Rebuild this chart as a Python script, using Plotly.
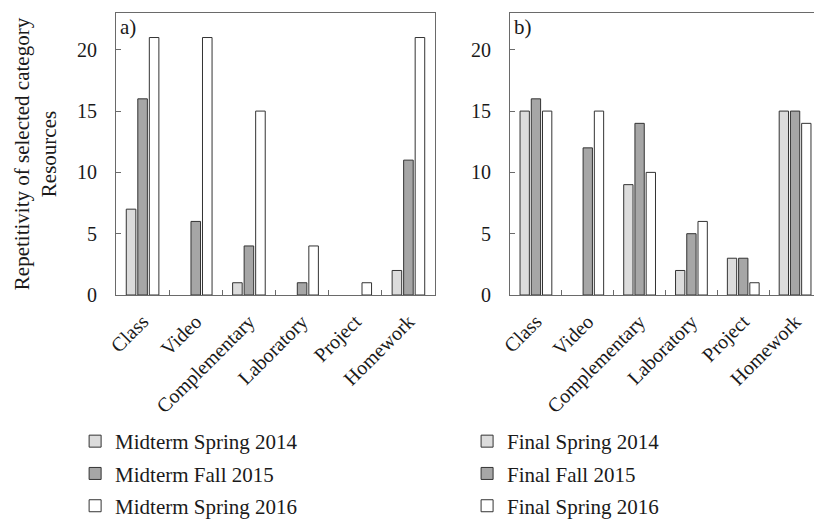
import plotly.graph_objects as go

categories = ["Class", "Video", "Complementary", "Laboratory", "Project", "Homework"]

midterm_spring_2014 = [7, 0, 1, 0, 0, 2]
midterm_fall_2015 = [16, 6, 4, 1, 0, 11]
midterm_spring_2016 = [21, 21, 15, 4, 1, 21]

final_spring_2014 = [15, 0, 9, 2, 3, 15]
final_fall_2015 = [16, 12, 14, 5, 3, 15]
final_spring_2016 = [15, 15, 10, 6, 1, 14]

y_ticks = [0, 5, 10, 15, 20]

colors = ["#dcdcdc", "#a6a6a6", "#ffffff"]
FONT = "Liberation Serif"
TXT = "#1a1a1a"
FRAME = "#6a6a6a"

fig = go.Figure()

left_series = [("Midterm Spring 2014", midterm_spring_2014),
               ("Midterm Fall 2015", midterm_fall_2015),
               ("Midterm Spring 2016", midterm_spring_2016)]
right_series = [("Final Spring 2014", final_spring_2014),
                ("Final Fall 2015", final_fall_2015),
                ("Final Spring 2016", final_spring_2016)]


def add_series(series, xa, ya, leg):
    for i, (name, vals) in enumerate(series):
        widths = [0 if v == 0 else 1 for v in vals]
        fig.add_trace(go.Bar(x=categories, y=vals, name=name, xaxis=xa, yaxis=ya,
                             marker=dict(color=colors[i],
                                         line=dict(color="#333333", width=widths)),
                             legend=leg, legendgroup=leg + name, offsetgroup=str(i)))


add_series(left_series, "x", "y", "legend")
add_series(right_series, "x2", "y2", "legend2")

axis_common = dict(showline=True, linecolor=FRAME, linewidth=1, mirror=True,
                   showgrid=False, zeroline=False,
                   tickfont=dict(family=FONT, size=20, color=TXT))

x_common = dict(type="category", ticks="inside", tickson="boundaries", ticklen=5,
                tickcolor=FRAME, tickangle=-45, ticklabelstandoff=6, **axis_common)
y_common = dict(range=[0, 23], tickvals=y_ticks, ticks="inside", ticklen=5,
                tickcolor=FRAME, ticklabelstandoff=14, **axis_common)

leg_common = dict(xanchor="left", yanchor="top", orientation="v",
                  font=dict(family=FONT, size=21, color=TXT),
                  tracegroupgap=2, bgcolor="rgba(0,0,0,0)")

fig.update_layout(
    width=822, height=521,
    margin=dict(l=108, r=9, t=5, b=234, autoexpand=False),
    paper_bgcolor="white", plot_bgcolor="white",
    barmode="group", bargap=0.35, bargroupgap=0.17,
    font=dict(family=FONT, size=20, color=TXT),
    xaxis=dict(domain=[0, 0.4525], anchor="y", **x_common),
    yaxis=dict(domain=[0, 1], anchor="x",
               title=dict(text="Repetitivity of selected category<br>Resources",
                          font=dict(family=FONT, size=21, color=TXT), standoff=14),
               **y_common),
    xaxis2=dict(domain=[0.5589, 1], anchor="y2", **x_common),
    yaxis2=dict(domain=[0, 1], anchor="x2", **y_common),
    legend=dict(x=-0.058, y=-0.4468, **leg_common),
    legend2=dict(x=0.498, y=-0.4468, **leg_common),
    annotations=[
        dict(text="a)", xref="x domain", yref="y domain", x=0.005, y=1.0,
             xanchor="left", yanchor="top", showarrow=False,
             font=dict(family=FONT, size=21, color=TXT)),
        dict(text="b)", xref="x2 domain", yref="y2 domain", x=0.005, y=1.0,
             xanchor="left", yanchor="top", showarrow=False,
             font=dict(family=FONT, size=21, color=TXT)),
    ],
)

fig.write_html("out.html")
